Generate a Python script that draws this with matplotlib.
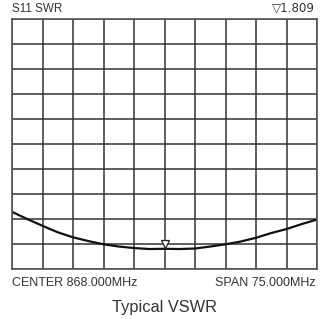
import numpy as np
import matplotlib
matplotlib.use("Agg")
import matplotlib.pyplot as plt
from matplotlib.transforms import offset_copy

# analyser settings
center_mhz = 868.0
span_mhz = 75.0
marker_value = 1.809

# SWR trace, 21 points across the span
swr = [3.29, 3.00, 2.73, 2.47, 2.27, 2.12, 1.99, 1.90, 1.84, 1.80, 1.809,
       1.80, 1.82, 1.90, 1.99, 2.10, 2.25, 2.44, 2.60, 2.80, 2.98]

swr_min, swr_max = 1.0, 11.0
n_div = 10

plt.rcParams['font.family'] = ['Liberation Sans', 'DejaVu Sans']

freq = np.linspace(center_mhz - span_mhz / 2, center_mhz + span_mhz / 2, len(swr))

fig = plt.figure(figsize=(3.3, 3.19), dpi=100)
ax = fig.add_axes([12 / 330, 1 - 269 / 319, 305 / 330, 249.7 / 319])

ax.set_xlim(freq[0], freq[-1])
ax.set_ylim(swr_min, swr_max)
ax.set_xticks(np.linspace(freq[0], freq[-1], n_div + 1))
ax.set_yticks(np.linspace(swr_min, swr_max, n_div + 1))
ax.grid(True, color='#333333', lw=1.1)
ax.tick_params(length=0, labelbottom=False, labelleft=False)
for s in ax.spines.values():
    s.set_color('#555555')
    s.set_linewidth(1.2)

ax.plot(freq, swr, color='#111111', lw=1.6, solid_capstyle='round')

# marker sits just above the trace at the centre frequency
tr = offset_copy(ax.transData, fig=fig, y=4.5, units='dots')
ax.plot([center_mhz], [marker_value], marker='v', ms=5.5, mfc='white',
        mec='#222222', mew=0.9, transform=tr, clip_on=False)

txt = '#333333'
fig.text(12 / 330, 1 - 11.7 / 319, 'S11 SWR', fontsize=8.4, color=txt, ha='left', va='baseline')
fig.text(315 / 330, 1 - 11.7 / 319, '\u25bd' + f'{marker_value:.3f}', fontsize=8.6, color=txt,
         ha='right', va='baseline', family=['DejaVu Sans'])
fig.text(12 / 330, 1 - 286 / 319, f'CENTER {center_mhz:.3f}MHz', fontsize=9.0, color=txt,
         ha='left', va='baseline')
fig.text(316 / 330, 1 - 286 / 319, f'SPAN {span_mhz:.3f}MHz', fontsize=9.0, color=txt,
         ha='right', va='baseline')
fig.text(165 / 330, 1 - 312 / 319, 'Typical VSWR', fontsize=11.8, color=txt,
         ha='center', va='baseline')

fig.savefig('out.png', dpi=100)
